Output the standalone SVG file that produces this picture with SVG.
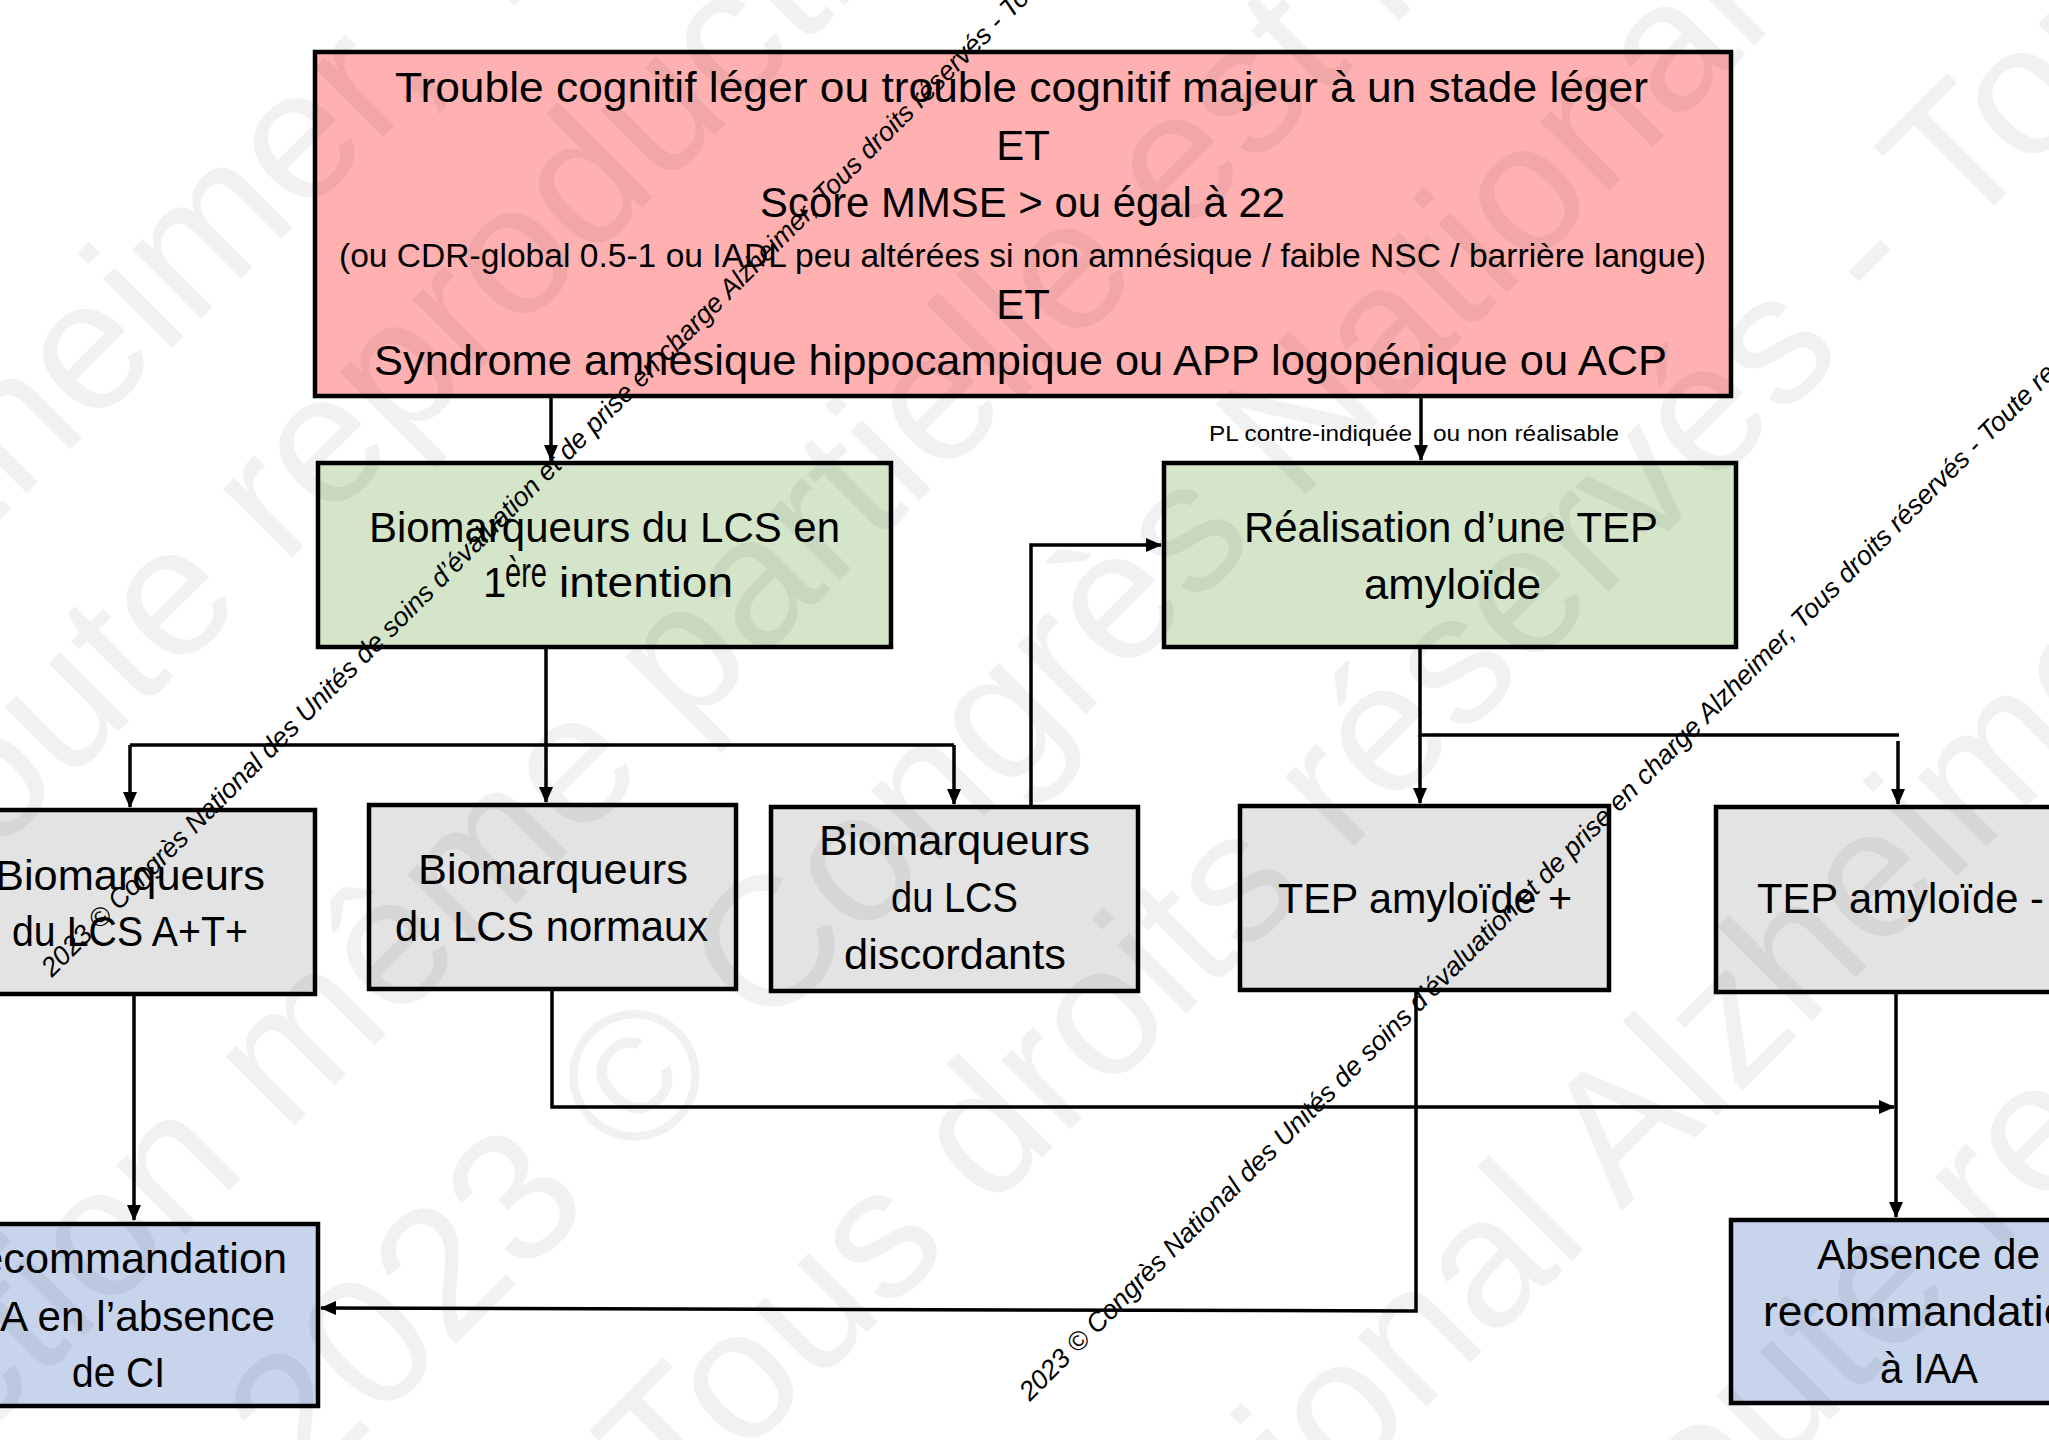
<svg xmlns="http://www.w3.org/2000/svg" width="2049" height="1440" viewBox="0 0 2049 1440">
<defs>
<style>
.box{stroke:#000;stroke-width:4.5}
.pink{fill:#FFB1B1}
.green{fill:#D4E5CA}
.gray{fill:#E3E3E3}
.blue{fill:#C7D4EC}
.t{font-family:"Liberation Sans",Arial,sans-serif;font-size:42px;fill:#000}
.s{font-size:33px}
.lab{font-family:"Liberation Sans",Arial,sans-serif;font-size:22px;fill:#000}
.con{fill:none;stroke:#000;stroke-width:3.5}
.wm{font-family:"Liberation Sans",Arial,sans-serif;font-style:italic;font-size:26.8px;fill:#000}
.big{font-family:"Liberation Sans",Arial,sans-serif;font-size:185px;fill:#000;fill-opacity:0.055}
</style>
<marker id="ah" viewBox="0 0 16 14" refX="15" refY="7" markerWidth="16" markerHeight="14" markerUnits="userSpaceOnUse" orient="auto">
<path d="M0,0 L16,7 L0,14 z" fill="#000"/>
</marker>
</defs>
<rect width="2049" height="1440" fill="#fff"/>

<g id="connectors">
<path class="con" d="M551,398 V460" marker-end="url(#ah)"/>
<path class="con" d="M1421,398 V460" marker-end="url(#ah)"/>
<path class="con" d="M546,649 V745"/>
<path class="con" d="M130,745 H954"/>
<path class="con" d="M130,745 V807" marker-end="url(#ah)"/>
<path class="con" d="M546,745 V802" marker-end="url(#ah)"/>
<path class="con" d="M954,745 V804" marker-end="url(#ah)"/>
<path class="con" d="M1031,807 V545 H1161" marker-end="url(#ah)"/>
<path class="con" d="M1420,649 V735 H1899"/>
<path class="con" d="M1420,735 V803" marker-end="url(#ah)"/>
<path class="con" d="M1898,741 V804" marker-end="url(#ah)"/>
<path class="con" d="M134,996 V1220" marker-end="url(#ah)"/>
<path class="con" d="M552,991 V1107 H1894" marker-end="url(#ah)"/>
<path class="con" d="M1416,992 V1311 L321,1308" marker-end="url(#ah)"/>
<path class="con" d="M1896,994 V1217" marker-end="url(#ah)"/>
</g>

<g id="node-criteria">
<rect class="box pink" x="315" y="52" width="1416" height="344"/>
<text class="t" x="395" y="102" textLength="1253" lengthAdjust="spacingAndGlyphs">Trouble cognitif léger ou trouble cognitif majeur à un stade léger</text>
<text class="t" x="1023" y="160" text-anchor="middle">ET</text>
<text class="t" x="760" y="217" textLength="525" lengthAdjust="spacingAndGlyphs">Score MMSE &gt; ou égal à 22</text>
<text class="t s" x="339" y="267" textLength="1367" lengthAdjust="spacingAndGlyphs">(ou CDR-global 0.5-1 ou IADL peu altérées si non amnésique / faible NSC / barrière langue)</text>
<text class="t" x="1023" y="319" text-anchor="middle">ET</text>
<text class="t" x="374" y="375" textLength="1293" lengthAdjust="spacingAndGlyphs">Syndrome amnésique hippocampique ou APP logopénique ou ACP</text>
</g>

<g id="node-lcs">
<rect class="box green" x="318" y="463" width="573" height="184"/>
<text class="t" x="369" y="542" textLength="471" lengthAdjust="spacingAndGlyphs">Biomarqueurs du LCS en</text>
<text class="t" x="483" y="597">1</text>
<text class="t" x="505" y="587" font-size="27" textLength="42" lengthAdjust="spacingAndGlyphs">ère</text>
<text class="t" x="559" y="597" textLength="174" lengthAdjust="spacingAndGlyphs">intention</text>
</g>

<g id="node-tep">
<rect class="box green" x="1164" y="463" width="572" height="184"/>
<text class="t" x="1244" y="542" textLength="414" lengthAdjust="spacingAndGlyphs">Réalisation d’une TEP</text>
<text class="t" x="1364" y="599" textLength="177" lengthAdjust="spacingAndGlyphs">amyloïde</text>
</g>

<g id="label-pl">
<text class="lab" x="1209" y="441" textLength="203" lengthAdjust="spacingAndGlyphs">PL contre-indiquée</text>
<text class="lab" x="1433" y="441" textLength="186" lengthAdjust="spacingAndGlyphs">ou non réalisable</text>
</g>

<g id="node-lcs-atp">
<rect class="box gray" x="-60" y="810" width="375" height="184"/>
<text class="t" x="-5" y="890" textLength="270" lengthAdjust="spacingAndGlyphs">Biomarqueurs</text>
<text class="t" x="12" y="946" textLength="236" lengthAdjust="spacingAndGlyphs">du LCS A+T+</text>
</g>

<g id="node-lcs-normaux">
<rect class="box gray" x="369" y="805" width="367" height="184"/>
<text class="t" x="418" y="884" textLength="270" lengthAdjust="spacingAndGlyphs">Biomarqueurs</text>
<text class="t" x="395" y="941" textLength="313" lengthAdjust="spacingAndGlyphs">du LCS normaux</text>
</g>

<g id="node-lcs-discordants">
<rect class="box gray" x="771" y="807" width="367" height="184"/>
<text class="t" x="819" y="855" textLength="271" lengthAdjust="spacingAndGlyphs">Biomarqueurs</text>
<text class="t" x="891" y="912" textLength="127" lengthAdjust="spacingAndGlyphs">du LCS</text>
<text class="t" x="844" y="969" textLength="222" lengthAdjust="spacingAndGlyphs">discordants</text>
</g>

<g id="node-tep-pos">
<rect class="box gray" x="1240" y="806" width="369" height="184"/>
<text class="t" x="1278" y="913" textLength="294" lengthAdjust="spacingAndGlyphs">TEP amyloïde +</text>
</g>

<g id="node-tep-neg">
<rect class="box gray" x="1716" y="807" width="370" height="185"/>
<text class="t" x="1757" y="913" textLength="287" lengthAdjust="spacingAndGlyphs">TEP amyloïde -</text>
</g>

<g id="node-reco">
<rect class="box blue" x="-90" y="1224" width="408" height="182"/>
<text class="t" x="-52" y="1273" textLength="339" lengthAdjust="spacingAndGlyphs">Recommandation</text>
<text class="t" x="-40" y="1331" textLength="315" lengthAdjust="spacingAndGlyphs">IAA en l’absence</text>
<text class="t" x="72" y="1387" textLength="93" lengthAdjust="spacingAndGlyphs">de CI</text>
</g>

<g id="node-absence">
<rect class="box blue" x="1731" y="1220" width="400" height="183"/>
<text class="t" x="1817" y="1269" textLength="223" lengthAdjust="spacingAndGlyphs">Absence de</text>
<text class="t" x="1763" y="1326" textLength="330" lengthAdjust="spacingAndGlyphs">recommandation</text>
<text class="t" x="1880" y="1383" textLength="98" lengthAdjust="spacingAndGlyphs">à IAA</text>
</g>

<g id="watermark-large">
<text class="big" transform="translate(-164,684) rotate(-45)">Alzheimer, Tous droits</text>
<text class="big" transform="translate(-73,923) rotate(-45)">Toute reproduction même</text>
<text class="big" transform="translate(-478,1898) rotate(-45)">reproduction même partielle est interdite</text>
<text class="big" transform="translate(304,1496) rotate(-45)">2023 © Congrès National Alzheimer</text>
<text class="big" transform="translate(676,1524) rotate(-45)">Tous droits réservés - Toute reproduction</text>
<text class="big" transform="translate(1112,1721) rotate(-45)">National Alzheimer, Tous</text>
<text class="big" transform="translate(1561,1689) rotate(-45)">- Toute reproduction</text>
</g>

<g id="watermark">
<text class="wm" transform="translate(52,978) rotate(-45)">2023 © Congrès National des Unités de soins d’évaluation et de prise en charge Alzheimer, Tous droits réservés - Toute reproduction</text>
<text class="wm" transform="translate(1030,1402) rotate(-45)">2023 © Congrès National des Unités de soins d’évaluation et de prise en charge Alzheimer, Tous droits réservés - Toute reproduction</text>
</g>
</svg>
